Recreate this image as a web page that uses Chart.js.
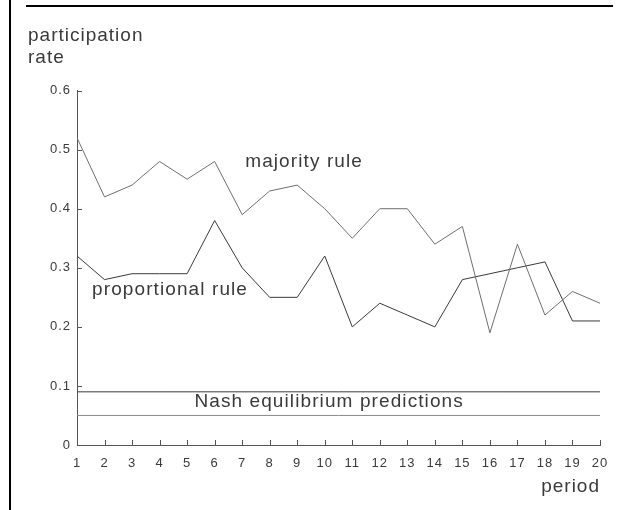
<!DOCTYPE html>
<html>
<head>
<meta charset="utf-8">
<script src="https://cdn.jsdelivr.net/npm/chart.js@4"></script>
<style>
    html, body {
        margin: 0;
        padding: 0;
        background: #fff;
    }
    #wrap {
        position: relative;
        width: 629px;
        height: 510px;
    }
    #frameLeft {
        position: absolute;
        left: 9px;
        top: 0;
        width: 2px;
        height: 510px;
        background: #000;
    }
    #frameTop {
        position: absolute;
        left: 26px;
        top: 5px;
        width: 587px;
        height: 2px;
        background: #000;
    }
    canvas {
        position: absolute;
        left: 0;
        top: 0;
    }
</style>
</head>
<body>
<div id="wrap">
    <canvas id="chart" width="629" height="510"></canvas>
    <div id="frameLeft"></div>
    <div id="frameTop"></div>
</div>
<script>
const periods = [1, 2, 3, 4, 5, 6, 7, 8, 9, 10, 11, 12, 13, 14, 15, 16, 17, 18, 19, 20];
const majorityRule = [0.52, 0.42, 0.44, 0.48, 0.45, 0.48, 0.39, 0.43, 0.44, 0.40, 0.35, 0.40, 0.40, 0.34, 0.37, 0.19, 0.34, 0.22, 0.26, 0.24];
const proportionalRule = [0.32, 0.28, 0.29, 0.29, 0.29, 0.38, 0.30, 0.25, 0.25, 0.32, 0.20, 0.24, 0.22, 0.20, 0.28, 0.29, 0.30, 0.31, 0.21, 0.21];
const nashMajority = 0.09;
const nashProportional = 0.05;
const yTicks = [0, 0.1, 0.2, 0.3, 0.4, 0.5, 0.6];

// text placed inside the plot, in data units
const notes = [
    { text: "majority rule", x: 9.25, y: 0.48 },
    { text: "proportional rule", x: 4.38, y: 0.263 },
    { text: "Nash equilibrium predictions", x: 10.16, y: 0.073 },
];

const textColor = "#3a3a3a";
const axisColor = "#555";
const bigFont = { family: "'Liberation Sans', Arial, sans-serif", size: 19, lineHeight: 1.2 };
const tickFont = { family: "'Liberation Sans', Arial, sans-serif", size: 13 };

function toPoints(values) {
    return values.map((v, i) => ({ x: periods[i], y: v }));
}

function flatLine(value) {
    return [
        { x: periods[0], y: value },
        { x: periods[periods.length - 1], y: value },
    ];
}

const spacingPlugin = {
    id: "spacing",
    beforeLayout(chart) {
        chart.ctx.letterSpacing = "1px";
    },
    beforeDraw(chart) {
        chart.ctx.letterSpacing = "1px";
    },
};

// tick marks point into the plot
const innerTicksPlugin = {
    id: "innerTicks",
    afterDraw(chart) {
        const { ctx, scales, chartArea } = chart;
        const len = 5;
        ctx.save();
        ctx.strokeStyle = axisColor;
        ctx.lineWidth = 1;
        ctx.beginPath();
        scales.x.ticks.forEach((t) => {
            const x = Math.round(scales.x.getPixelForValue(t.value)) + 0.5;
            ctx.moveTo(x, chartArea.bottom);
            ctx.lineTo(x, chartArea.bottom - len);
        });
        scales.y.ticks.forEach((t) => {
            const y = Math.round(scales.y.getPixelForValue(t.value)) + 0.5;
            ctx.moveTo(chartArea.left, y);
            ctx.lineTo(chartArea.left + len, y);
        });
        ctx.stroke();
        ctx.restore();
    },
};

const notesPlugin = {
    id: "notes",
    afterDatasetsDraw(chart) {
        const { ctx, scales } = chart;
        ctx.save();
        ctx.letterSpacing = "1.1px";
        ctx.font = "19px 'Liberation Sans', Arial, sans-serif";
        ctx.fillStyle = textColor;
        ctx.textAlign = "center";
        ctx.textBaseline = "middle";
        notes.forEach((note) => {
            ctx.fillText(note.text, scales.x.getPixelForValue(note.x), scales.y.getPixelForValue(note.y));
        });
        ctx.restore();
    },
};

function lineSet(label, data, color) {
    return {
        label: label,
        data: data,
        borderColor: color,
        borderWidth: 1,
        pointRadius: 0,
        tension: 0,
        fill: false,
    };
}

const chartConfig = {
    type: "line",
    data: {
        datasets: [
            lineSet("majority rule", toPoints(majorityRule), "#6f6f6f"),
            lineSet("proportional rule", toPoints(proportionalRule), "#3a3a3a"),
            lineSet("Nash majority", flatLine(nashMajority), "#3a3a3a"),
            lineSet("Nash proportional", flatLine(nashProportional), "#8a8a8a"),
        ],
    },
    options: {
        responsive: false,
        animation: false,
        layout: {
            padding: { left: 28, right: 29, top: 0, bottom: 0 },
        },
        plugins: {
            legend: { display: false },
            tooltip: { enabled: false },
            title: {
                display: true,
                text: ["participation", "rate"],
                align: "start",
                color: textColor,
                font: Object.assign({ weight: "normal" }, bigFont),
                padding: { top: 24, bottom: 21 },
            },
        },
        scales: {
            x: {
                type: "linear",
                min: 1,
                max: 20,
                afterFit(scale) {
                    scale.height = 65;
                },
                afterBuildTicks(scale) {
                    scale.ticks = periods.map((p) => ({ value: p }));
                },
                border: { color: axisColor, width: 1 },
                grid: {
                    drawOnChartArea: false,
                    drawTicks: false,
                },
                ticks: {
                    color: textColor,
                    font: tickFont,
                    padding: 11,
                    maxRotation: 0,
                    autoSkip: false,
                },
                title: {
                    display: true,
                    text: "period",
                    align: "end",
                    color: textColor,
                    font: bigFont,
                    padding: { top: 0, bottom: 12 },
                },
            },
            y: {
                min: 0,
                max: 0.6,
                afterFit(scale) {
                    scale.width = 49;
                },
                afterBuildTicks(scale) {
                    scale.ticks = yTicks.map((t) => ({ value: t }));
                },
                border: { color: axisColor, width: 1 },
                grid: {
                    drawOnChartArea: false,
                    drawTicks: false,
                },
                ticks: {
                    color: textColor,
                    font: tickFont,
                    padding: 6,
                    callback: (v) => String(Math.round(v * 10) / 10),
                },
            },
        },
    },
    plugins: [spacingPlugin, innerTicksPlugin, notesPlugin],
};

new Chart(document.getElementById("chart"), chartConfig);
</script>
</body>
</html>
